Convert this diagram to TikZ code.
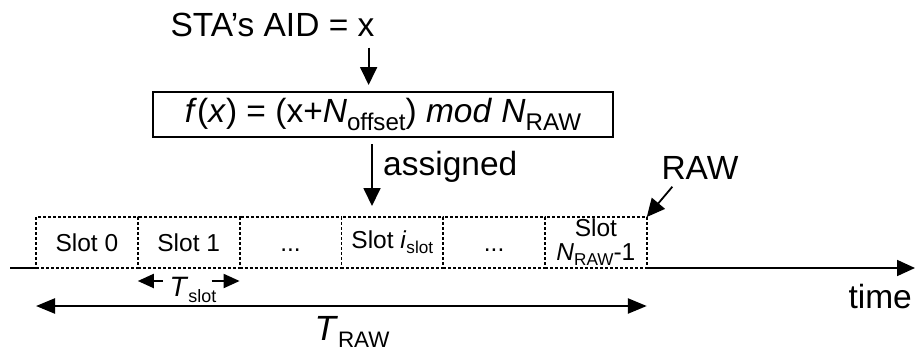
\documentclass[tikz,border=0pt]{standalone}
\usepackage{fontspec}
\usepackage{graphicx}
\setmainfont{Liberation Sans}
\usetikzlibrary{arrows.meta}
% lowered, reduced text used as a subscript
\newcommand\lowsub[2][0.68]{\raisebox{-0.22em}{\scalebox{#1}{#2}}}
\begin{document}
\begin{tikzpicture}[x=1pt,y=-1pt,
  big/.style={font=\fontsize{33.5}{36}\selectfont, inner sep=0pt},
  formula/.style={draw, line width=2pt, minimum width=460pt, minimum height=45pt,
    inner sep=0pt, font=\fontsize{33.5}{36}\selectfont},
  slotbox/.style={font=\fontsize{24.5}{27}\selectfont, align=center,
    draw, line width=1.8pt, dash pattern=on 3pt off 2pt,
    minimum width=101.8pt, minimum height=51pt, inner sep=0pt, outer sep=0pt,
    anchor=south west},
  arr/.style={line width=1.8pt, -{Triangle[length=18pt,width=17pt]}},
  axisarr/.style={line width=1.8pt, -{Triangle[length=18pt,width=16pt]}},
  dimarr/.style={line width=2.4pt, {Triangle[length=19pt,width=15pt]}-{Triangle[length=19pt,width=15pt]}},
  smallarr/.style={line width=2pt, -{Triangle[length=16pt,width=14pt]}},
]
\useasboundingbox (0,0) rectangle (915,351);

% station identifier and the mapping function
\node[big, anchor=base] (aid) at (272.5,36) {STA’s AID = x};
\node[formula] (fbox) at (383,114.5)
  {\textit{f}(\textit{x}) = (x+\textit{N}\lowsub[0.72]{offset}) \textit{mod} \textit{N}\lowsub[0.72]{RAW}};
\draw[arr] ([xshift=-6pt,yshift=-11pt]aid.south east)
  -- ([xshift=-6pt,yshift=6pt]aid.south east |- fbox.north);

% slots of the restricted access window
\node[slotbox] (s0) at (36,268) {Slot 0};
\node[slotbox] (s1) at (s0.south east) {Slot 1};
\node[slotbox] (s2) at (s1.south east) {\vphantom{Slot}...};
\node[slotbox] (s3) at (s2.south east) {Slot \textit{i}\lowsub[0.7]{slot}};
\node[slotbox] (s4) at (s3.south east) {\vphantom{Slot}...};
\node[slotbox] (s5) at (s4.south east) {Slot\\[-3.5pt]\textit{N}\lowsub[0.7]{RAW}-1};

% assignment of the station to a slot
\draw[arr] ([xshift=-11pt,yshift=-6pt]fbox.south)
  -- ([xshift=-11pt,yshift=11pt]fbox.south |- s3.north);
\node[big, anchor=base west] (assigned) at (383,175) {assigned};

% RAW label
\node[big] (raw) at (700,168) {RAW};
\draw[arr] ([shift={(11pt,-7pt)}]raw.south west) -- (s5.north east);

% time axis
\coordinate (t0) at (10,268);
\coordinate (t1) at (915,268);
\draw[line width=1.8pt] (t0) -- (s0.south west);
\draw[axisarr] (s5.south east) -- (t1);
\node[big, anchor=base east] (time) at (912,308) {time};

% slot duration
\coordinate (tsl) at ([yshift=-13pt]s1.south west);
\coordinate (tsr) at ([yshift=-13pt]s1.south east);
\draw[smallarr] ([xshift=25pt]tsl) -- (tsl);
\draw[smallarr] ([xshift=-28pt]tsr) -- (tsr);
\node[font=\fontsize{28}{30}\selectfont, inner sep=0pt, anchor=base] (tslot) at (193,296)
  {\textit{T}\lowsub[0.64]{slot}};

% window duration
\draw[dimarr] ([yshift=-38pt]s0.south west) -- ([yshift=-38pt]s5.south east);
\node[font=\fontsize{35}{38}\selectfont, inner sep=0pt, anchor=base] (traw) at (352,340)
  {\textit{T}\lowsub[0.64]{RAW}};
\end{tikzpicture}
\end{document}
